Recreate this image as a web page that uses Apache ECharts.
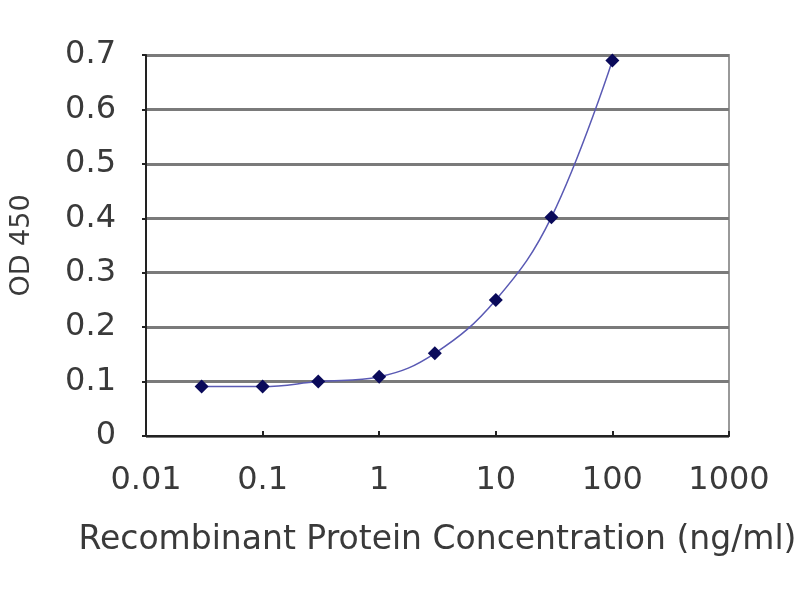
<!DOCTYPE html>
<html>
<head>
<meta charset="utf-8">
<script src="https://cdn.jsdelivr.net/npm/echarts@6/dist/echarts.min.js"></script>
<style>
  html, body { margin: 0; padding: 0; background: #fff; }
  #chart { width: 800px; height: 600px; }
</style>
</head>
<body>
<div id="chart"></div>
<script>
// concentration (ng/ml) and OD 450 readings
const concentrations = [0.03, 0.1, 0.3, 1, 3, 10, 30, 100];
const odValues = [0.091, 0.091, 0.100, 0.109, 0.152, 0.250, 0.402, 0.690];
const xTicks = [0.01, 0.1, 1, 10, 100, 1000];

const chart = echarts.init(document.getElementById('chart'));
const fontFamily = '"DejaVu Sans", sans-serif';

chart.setOption({
  backgroundColor: '#fff',
  animation: false,
  grid: {
    left: 143, right: 71, top: 55, bottom: 164,
    show: true, borderColor: '#999', borderWidth: 2, backgroundColor: '#fff'
  },
  xAxis: {
    type: 'log',
    logBase: 10,
    min: xTicks[0],
    max: xTicks[xTicks.length - 1],
    name: 'Recombinant Protein Concentration (ng/ml)',
    nameLocation: 'middle',
    nameGap: 88,
    nameTextStyle: { fontFamily, fontSize: 33, color: '#3a3a3a' },
    axisLine: { lineStyle: { color: '#222', width: 2 } },
    axisTick: { inside: true, length: 5, lineStyle: { color: '#222', width: 2 } },
    splitLine: { show: false },
    axisLabel: {
      margin: 29,
      fontFamily, fontSize: 32, color: '#3a3a3a',
      formatter: v => String(+v.toPrecision(3))
    }
  },
  yAxis: {
    type: 'value',
    min: 0,
    max: 0.7,
    interval: 0.1,
    name: 'OD 450',
    nameLocation: 'middle',
    nameGap: 111,
    nameTextStyle: { fontFamily, fontSize: 27, color: '#3a3a3a' },
    axisLine: { show: true, lineStyle: { color: '#222', width: 2 } },
    axisTick: { show: true, length: 4, lineStyle: { color: '#222', width: 2 } },
    splitLine: { lineStyle: { color: '#7a7a7a', width: 3 } },
    axisLabel: {
      margin: 30,
      fontFamily, fontSize: 32, color: '#3a3a3a',
      formatter: v => String(+v.toFixed(1))
    }
  },
  series: [{
    type: 'line',
    data: concentrations.map((c, i) => [c, odValues[i]]),
    smooth: 0.4,
    symbol: 'diamond',
    symbolSize: 14,
    lineStyle: { color: '#5a5ab4', width: 1.5 },
    itemStyle: { color: '#0a0a5a' }
  }]
});
</script>
</body>
</html>
